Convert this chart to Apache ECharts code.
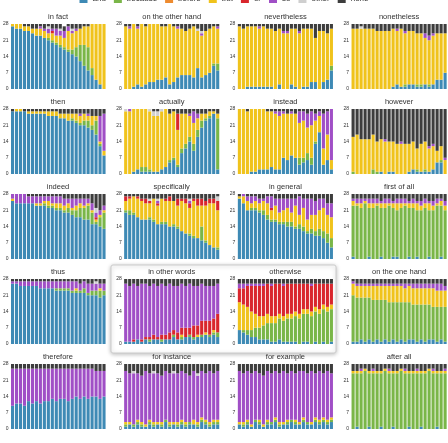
<!DOCTYPE html>
<html>
<head>
<meta charset="utf-8">
<script src="https://cdn.jsdelivr.net/npm/echarts@6/dist/echarts.min.js"></script>
<style>
  html, body { margin: 0; padding: 0; background: #fff; }
  #chart { width: 448px; height: 443px; }
</style>
</head>
<body>
<div id="chart"></div>
<script>
// categories of each stack, bottom to top
var categories = ['and', 'because', 'before', 'but', 'or', 'so', 'other', 'none'];
var colors = ['#3e8ab5', '#7ab648', '#ee8b2f', '#f0c31c', '#d9262d', '#a04fc6', '#cfcfcf', '#3d3d3d'];
var titles = ['in fact', 'on the other hand', 'nevertheless', 'nonetheless',
              'then', 'actually', 'instead', 'however',
              'indeed', 'specifically', 'in general', 'first of all',
              'thus', 'in other words', 'otherwise', 'on the one hand',
              'therefore', 'for instance', 'for example', 'after all'];
var yTicks = [0, 7, 14, 21, 28];
var Z = [0,0,0,0,0,0,0,0,0,0,0,0,0,0,0,0,0,0,0,0,0,0,0,0];

// each panel: [and, because, before, but, or, so, other, none]
var inFact = [
  [27,26,26,25,25,24,23,23,22,21,20,19,18,17,16,15,14,12,10,8,6,4,2,0],
  [0,0,0,0,0,0,0,0,0,1,1,1,1,1,1,2,4,7,9,10,3,0,0,0],
  Z,
  [1,2,2,2,2,2,3,3,3,2,3,3,4,4,8,7,7,7,8,9,19,24,26,28],
  [0,0,0,0,0,0,0,0,0,0,1,0,0,0,0,0,0,0,0,0,0,0,0,0],
  [0,0,0,0,0,0,0,1,1,2,1,3,2,3,2,1,1,0,0,0,0,0,0,0],
  [0,0,0,0,0,0,0,0,0,1,0,0,1,0,0,1,0,0,0,0,0,0,0,0],
  [0,0,0,1,1,2,2,1,2,1,2,2,2,2,1,2,2,2,1,1,0,0,0,0]
];
var onTheOtherHand = [
  [0,0,1,2,1,2,3,3,4,4,5,2,3,5,6,6,6,5,9,5,6,7,10,8],
  [0,0,0,0,0,0,0,0,0,0,0,0,0,0,0,0,0,0,0,0,0,0,1,3],
  Z,
  [27,26,27,24,27,25,25,25,24,23,22,26,24,21,20,19,20,22,16,18,19,19,16,15],
  Z,
  [0,1,0,1,0,0,0,0,0,0,0,0,0,1,0,0,0,0,0,1,0,0,0,1],
  [0,0,0,0,0,0,0,0,0,0,0,0,0,0,0,0,0,0,1,1,0,0,0,0],
  [1,1,0,1,0,1,0,0,0,1,1,0,1,1,2,3,2,1,2,3,3,2,1,1]
];
var nevertheless = [
  [0,0,1,1,1,1,1,1,1,0,2,0,0,2,1,0,1,1,3,3,0,3,4,8],
  [0,0,0,0,0,0,0,0,0,0,0,0,0,0,0,0,0,0,0,0,0,0,0,2],
  Z,
  [27,26,26,26,26,25,26,25,25,25,24,24,24,24,25,24,25,25,23,19,25,22,20,16],
  Z,
  [0,0,0,0,0,1,0,0,0,0,0,1,1,0,0,1,0,0,0,0,0,0,0,0],
  Z,
  [1,2,1,1,1,1,1,2,2,3,2,3,3,2,2,3,2,2,2,6,3,3,4,2]
];
var nonetheless = [
  [0,0,0,0,0,0,0,0,0,0,1,2,1,1,2,2,1,1,2,1,2,4,4,7],
  [0,0,0,0,0,0,0,0,0,0,0,0,0,1,0,0,1,1,0,1,0,0,0,0],
  Z,
  [26,26,26,26,26,26,25,25,25,25,25,23,25,22,23,23,22,22,20,19,21,20,20,17],
  Z,
  [0,0,0,0,0,0,0,0,0,0,0,1,0,1,0,0,0,0,2,2,1,0,0,0],
  [0,0,1,0,0,0,0,0,0,0,0,0,0,0,0,0,0,0,0,0,0,0,0,0],
  [2,2,1,2,2,2,3,3,3,3,2,2,2,3,3,3,4,4,4,5,4,4,4,4]
];
var thenPanel = [
  [27,27,27,27,26,26,26,26,26,25,25,25,24,24,23,23,22,21,21,20,19,17,12,8],
  [0,0,0,0,0,0,0,0,0,0,0,0,0,0,0,1,1,1,2,3,2,6,1,0],
  Z,
  [0,1,1,0,1,1,1,1,1,2,2,2,2,2,3,2,3,3,3,2,4,2,1,2],
  Z,
  [0,0,0,0,0,0,0,0,0,0,0,0,0,0,0,0,0,1,0,1,0,0,11,16],
  Z,
  [1,0,0,1,1,1,1,1,1,1,1,1,2,2,2,2,2,2,2,2,3,3,3,2]
];
var actually = [
  [0,0,1,2,1,1,1,1,1,2,3,5,6,3,9,11,14,10,16,20,23,24,26,2],
  [0,0,0,0,2,2,1,0,0,0,0,1,1,1,2,2,2,3,3,3,1,1,0,22],
  Z,
  [27,27,27,26,25,25,25,24,24,25,25,20,20,15,15,13,9,9,5,3,2,2,1,2],
  [0,0,0,0,0,0,0,0,0,0,0,0,0,7,0,0,0,0,0,0,0,0,0,0],
  [0,1,0,0,0,0,0,0,0,0,0,0,0,0,0,0,1,5,2,0,0,0,0,0],
  [1,0,0,0,0,0,1,2,2,1,0,0,0,0,0,0,0,0,0,0,0,0,0,0],
  [0,0,0,0,0,0,0,1,1,0,0,2,1,2,2,2,2,1,2,2,2,1,1,2]
];
var instead = [
  [0,0,0,1,1,2,2,2,3,2,2,7,6,8,7,4,5,6,4,13,18,4,6,2],
  [0,0,0,0,0,0,0,0,0,0,0,0,0,0,0,3,2,3,3,1,0,0,0,0],
  Z,
  [28,28,27,27,27,26,26,25,24,24,23,19,20,18,19,15,16,11,14,9,7,7,11,4],
  Z,
  [0,0,0,0,0,0,0,0,0,1,2,1,0,1,0,5,4,6,6,3,2,15,10,22],
  Z,
  [0,0,1,0,0,0,0,1,1,1,1,1,2,1,2,1,1,2,1,2,1,2,1,0]
];
var however = [
  [0,0,0,0,0,0,0,1,0,1,1,0,0,0,1,2,1,1,1,1,2,5,5,0],
  [1,0,0,0,0,2,1,0,0,0,0,0,0,0,0,0,1,0,1,0,0,0,1,0],
  Z,
  [15,17,15,15,15,15,13,14,14,13,13,13,13,13,12,12,9,12,12,10,10,5,6,6],
  Z,
  [0,0,0,0,0,0,0,0,1,0,0,0,1,0,0,0,0,0,0,1,1,0,0,1],
  Z,
  [12,11,13,13,13,11,14,13,13,14,14,15,14,15,15,14,17,15,14,16,15,18,16,21]
];
var indeed = [
  [25,24,24,24,24,24,23,23,23,22,22,21,21,20,20,19,18,18,17,17,15,15,14,13],
  [0,0,0,0,0,0,0,0,1,1,1,1,1,1,2,2,3,4,5,6,5,1,4,7],
  Z,
  [1,0,0,0,0,0,1,1,1,2,1,2,2,2,2,1,2,2,1,1,1,1,1,1],
  [0,0,0,0,0,0,0,0,0,0,0,0,0,0,0,0,0,0,0,0,0,1,0,0],
  [2,4,4,4,3,3,3,3,2,2,3,3,3,3,2,4,3,2,3,2,3,2,2,2],
  [0,0,0,0,0,0,0,0,0,0,0,0,0,0,0,0,0,0,0,0,0,2,0,0],
  [0,0,0,0,1,1,1,1,1,1,1,1,1,2,2,2,2,2,2,2,4,6,7,5]
];
var specifically = [
  [20,19,19,18,17,17,17,16,15,15,15,14,14,13,12,11,10,9,9,8,7,6,5,4],
  [1,2,1,0,0,0,1,1,0,1,1,0,1,1,0,0,1,1,0,6,1,0,0,1],
  Z,
  [4,5,7,8,8,7,6,9,8,10,9,11,10,9,13,13,11,15,14,9,15,18,19,16],
  [2,1,0,1,1,2,1,0,1,0,1,2,0,3,1,2,2,1,3,3,2,2,2,4],
  [0,0,0,0,0,0,0,0,1,0,0,0,0,0,0,0,1,0,0,0,0,0,0,0],
  [0,0,0,0,0,0,1,0,1,0,0,0,0,0,0,0,1,0,0,0,0,0,0,2],
  [1,1,1,1,2,2,2,2,2,2,2,1,3,2,2,2,2,2,2,2,3,2,2,1]
];
var inGeneral = [
  [26,24,21,21,21,20,19,17,16,16,15,15,14,14,13,13,12,11,11,10,10,9,7,5],
  [0,0,0,1,1,1,2,2,1,1,1,1,2,2,1,2,2,1,2,2,3,3,4,4],
  Z,
  [1,3,4,2,3,3,4,5,4,6,4,5,6,4,9,4,8,5,6,7,8,10,8,9],
  [0,0,0,0,0,0,0,0,1,0,0,0,0,0,0,0,0,0,0,0,0,0,0,0],
  [0,1,2,3,2,2,1,3,5,3,6,5,4,6,3,8,4,9,7,6,5,4,5,6],
  Z,
  [1,0,1,1,1,2,2,1,1,2,2,2,2,2,2,1,2,2,2,3,2,2,4,4]
];
var firstOfAll = [
  [1,0,0,0,1,0,0,1,0,0,1,1,0,0,1,0,1,0,0,1,0,0,1,0],
  [22,23,22,24,21,22,23,21,22,23,21,20,22,23,21,22,20,21,22,20,21,23,22,21],
  Z,
  [2,1,2,1,2,2,1,2,2,1,2,3,2,1,2,2,3,2,2,3,2,1,2,2],
  Z,
  [1,2,2,1,2,2,2,1,2,2,1,2,2,2,1,2,1,2,2,1,2,2,1,2],
  Z,
  [2,2,2,2,2,2,2,3,2,2,3,2,2,2,3,2,3,3,2,3,3,2,2,3]
];
var thus = [
  [26,26,25,25,25,25,25,24,24,24,24,23,23,23,23,22,22,22,22,21,21,21,20,21],
  [0,0,0,0,0,0,0,0,0,0,0,1,1,1,1,1,1,1,2,1,2,2,3,2],
  Z,
  [0,0,0,0,0,0,0,0,0,0,0,0,0,0,0,0,1,0,0,0,0,0,1,0],
  Z,
  [1,1,2,2,2,2,2,3,3,3,3,3,3,3,3,4,3,3,3,4,3,3,2,3],
  [0,0,0,0,0,0,0,0,0,0,0,0,0,0,0,0,0,0,0,0,0,1,0,0],
  [1,1,1,1,1,1,1,1,1,1,1,1,1,1,1,1,1,2,1,2,2,1,2,2]
];
var inOtherWords = [
  [1,1,1,2,1,2,1,2,2,1,2,2,3,2,2,3,3,2,3,3,4,3,4,3],
  [0,0,0,0,0,0,1,0,0,1,0,0,1,0,1,0,1,1,0,1,0,1,1,2],
  Z,
  [0,0,0,0,0,0,0,0,0,0,0,0,0,0,1,0,0,0,1,0,1,0,1,0],
  [0,0,1,0,1,1,1,2,1,2,2,3,2,3,3,4,3,5,4,6,5,6,5,8],
  [25,24,24,23,24,23,22,22,22,22,21,21,19,20,19,18,19,17,17,16,15,15,14,13],
  Z,
  [2,3,2,3,2,2,3,2,3,2,3,2,3,3,2,3,2,3,3,2,3,3,3,2]
];
var otherwise = [
  [6,5,4,3,3,2,2,2,1,1,2,1,1,1,1,0,1,1,0,1,0,1,0,1],
  [0,1,2,3,4,5,6,7,8,8,9,9,10,10,11,11,12,12,12,13,13,14,14,14],
  Z,
  [12,11,10,8,6,5,4,4,3,3,2,2,2,2,2,2,2,2,2,2,2,2,2,2],
  [6,7,9,11,12,13,13,13,13,14,13,13,13,13,12,13,11,11,11,10,11,9,10,9],
  [2,2,1,1,1,1,1,0,1,0,0,1,0,0,0,0,0,0,1,0,0,0,0,0],
  Z,
  [2,2,2,2,2,2,2,2,2,2,2,2,2,2,2,2,2,2,2,2,2,2,2,2]
];
var onTheOneHand = [
  [1,1,2,1,2,1,2,1,2,1,2,1,2,1,2,2,1,2,1,2,2,1,2,1],
  [20,19,18,19,18,18,17,18,17,17,16,17,16,17,16,15,16,15,16,15,14,15,14,15],
  Z,
  [5,5,5,5,5,6,6,6,6,7,7,7,7,6,7,7,7,7,7,7,8,7,7,7],
  Z,
  [1,1,1,1,1,1,1,1,1,1,1,1,1,2,1,2,2,2,2,2,2,3,3,2],
  Z,
  [1,2,2,2,2,2,2,2,2,2,2,2,2,2,2,2,2,2,2,2,2,2,2,3]
];
var therefore = [
  [10,11,11,10,12,11,12,11,12,12,13,12,13,13,12,13,14,13,14,13,14,14,13,14],
  Z,
  Z,
  Z,
  Z,
  [16,15,15,16,14,15,14,15,14,14,13,14,13,13,14,13,12,13,12,13,12,11,12,11],
  Z,
  [2,2,2,2,2,2,2,2,2,2,2,2,2,2,2,2,2,2,2,2,2,3,3,3]
];
var forInstance = [
  [1,2,1,2,1,1,2,1,2,1,3,1,2,1,2,1,2,2,1,3,2,1,2,2],
  [1,0,1,1,1,0,1,1,0,1,1,1,0,1,1,1,1,0,1,1,1,1,1,1],
  Z,
  [1,1,0,1,1,1,1,1,1,1,0,1,1,1,1,1,0,2,1,1,1,1,1,1],
  Z,
  [22,21,22,20,20,23,20,21,21,20,21,21,21,21,21,21,20,21,20,20,20,22,20,21],
  [0,0,1,0,0,0,0,1,0,0,0,0,1,0,0,0,0,0,1,0,0,0,0,0],
  [3,4,3,4,5,3,4,3,4,5,3,4,3,4,3,4,5,3,4,3,4,3,4,3]
];
var forExample = [
  [2,1,2,1,3,2,1,2,2,3,1,2,2,3,2,2,3,2,2,3,2,3,2,3],
  [0,1,1,0,1,1,0,1,1,1,1,0,1,1,1,0,1,1,0,1,1,1,1,1],
  Z,
  [1,1,1,1,0,1,1,1,0,1,1,1,1,0,1,1,1,0,1,1,1,1,1,1],
  Z,
  [22,21,21,22,21,20,21,21,21,20,21,22,20,21,20,22,20,21,22,19,21,19,21,19],
  Z,
  [3,4,3,4,3,4,5,3,4,3,4,3,4,3,4,3,3,4,3,4,3,4,3,4]
];
var afterAll = [
  [0,1,0,0,1,0,0,1,0,0,1,0,0,0,1,0,0,1,0,0,0,1,0,0],
  [24,23,24,25,23,24,24,23,25,24,23,24,25,24,23,24,24,23,24,25,24,23,24,24],
  Z,
  [1,1,1,1,1,1,1,1,1,1,1,1,1,1,1,1,1,1,1,1,1,1,1,1],
  Z,
  [0,0,1,0,0,1,0,0,0,1,0,0,0,1,0,0,1,0,0,0,1,0,0,1],
  Z,
  [3,3,2,2,3,2,3,3,2,2,3,3,2,2,3,3,2,3,3,2,2,3,3,2]
];

var panels = [inFact, onTheOtherHand, nevertheless, nonetheless,
              thenPanel, actually, instead, however,
              indeed, specifically, inGeneral, firstOfAll,
              thus, inOtherWords, otherwise, onTheOneHand,
              therefore, forInstance, forExample, afterAll];

var bars = [];
for (var i = 0; i < 24; i++) bars.push(String(i + 1));

var chart = echarts.init(document.getElementById('chart'));

var grids = [], xAxes = [], yAxes = [], titleList = [], series = [];
var font = '"Liberation Sans", Arial, sans-serif';
for (var p = 0; p < panels.length; p++) {
    var row = Math.floor(p / 4), col = p % 4;
    var gLeft = 10 + 113.7 * col, gTop = 24 + 85 * row;
    grids.push({ left: gLeft, top: gTop, width: 96, height: 65 });
    titleList.push({
        text: titles[p], left: gLeft + 48, top: gTop - 11, textAlign: 'center', padding: 0,
        textStyle: { fontSize: 7.5, fontWeight: 'normal', color: '#333', fontFamily: font }
    });
    xAxes.push({
        type: 'category', gridIndex: p, data: bars.slice(),
        axisLine: { show: false }, axisTick: { show: false }, axisLabel: { show: false }
    });
    yAxes.push({
        type: 'value', gridIndex: p, min: yTicks[0], max: yTicks[yTicks.length - 1], interval: 7,
        axisLine: { show: false }, axisTick: { show: false }, splitLine: { show: false },
        axisLabel: { fontSize: 5, color: '#333', margin: 2, fontFamily: font }
    });
    for (var k = 0; k < categories.length; k++) {
        series.push({
            name: categories[k], type: 'bar', stack: 'p' + p,
            xAxisIndex: p, yAxisIndex: p, data: panels[p][k].slice(),
            barCategoryGap: '22%', itemStyle: { color: colors[k] },
            silent: true
        });
    }
}

var option = {
    animation: false,
    title: titleList,
    legend: {
        data: categories.slice(), top: -5, left: 'center', padding: 0,
        itemWidth: 8, itemHeight: 8, itemGap: 8, icon: 'rect',
        textStyle: { fontSize: 8, color: '#333', fontFamily: font }
    },
    graphic: [{
        type: 'rect', z: -1,
        shape: { x: 111, y: 265, width: 225, height: 88, r: 2 },
        style: { fill: '#fff', stroke: '#cccccc', lineWidth: 1,
                 shadowBlur: 4, shadowColor: 'rgba(0,0,0,0.25)', shadowOffsetY: 1 }
    }],
    grid: grids,
    xAxis: xAxes,
    yAxis: yAxes,
    series: series
};
chart.setOption(option);
</script>
</body>
</html>
